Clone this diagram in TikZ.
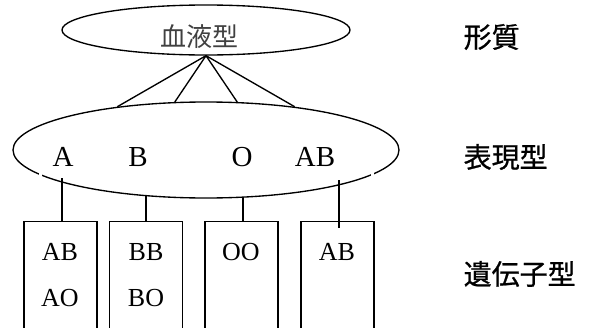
\documentclass[tikz,border=0pt]{standalone}
\usepackage{fontspec}
\setmainfont{Liberation Serif}
\newfontfamily\cjk{Noto Sans CJK JP}
\newfontfamily\cjkbold[FakeBold=0.8]{Noto Sans CJK JP}
\usetikzlibrary{shapes.geometric}
\begin{document}
\begin{tikzpicture}[x=1pt,y=-1pt,
  line width=1.35pt,
  oval/.style={draw,ellipse,inner sep=0pt},
  genebox/.style={draw,rectangle,minimum width=73pt,minimum height=120pt,anchor=north,inner sep=0pt},
  big/.style={font=\fontsize{29}{31}\selectfont,anchor=base,inner sep=0pt},
  small/.style={font=\fontsize{26}{28}\selectfont,anchor=base,inner sep=0pt},
  label/.style={font=\cjkbold\fontsize{28}{30}\selectfont,anchor=west,inner sep=0pt}]
\useasboundingbox (0,0) rectangle (592,327);
\clip (0,0) rectangle (592,327);
% top ellipse
\node[oval,minimum width=288pt,minimum height=50pt] (blood) at (206,30) {};
\node[font=\cjk\fontsize{26}{28}\selectfont,text=black!75,inner sep=0pt] (bloodtxt) at (199,37) {血液型};
% phenotype ellipse
\node[oval,minimum width=386pt,minimum height=96pt] (pheno) at (206,150) {};
\fill[white] (38.5,171) rectangle (41.5,178);
\fill[white] (371,169) rectangle (374,176);
\node[big] (tA) at (63,166.5) {A};
\node[big] (tB) at (138,166.5) {B};
\node[big] (tO) at (242,166.5) {O};
\node[big] (tAB) at (315,166.5) {AB};
% connectors top
\draw (blood.south) -- (pheno.154.2);
\draw (blood.south) -- (pheno.123.7);
\draw (blood.south) -- (pheno.57.1);
\draw (blood.south) -- (pheno.26.3);
% boxes
\node[genebox] (bA) at (60.5,221) {};
\node[genebox] (bB) at (146,221) {};
\node[genebox] (bO) at (241.5,221) {};
\node[genebox] (bAB) at (337.5,221) {};
\node[small] (gAB1) at (60,260) {AB};
\node[small] (gAO) at (60,306.7) {AO};
\node[small] (gBB) at (146,260) {BB};
\node[small] (gBO) at (146,306.7) {BO};
\node[small] (gOO) at (241,260) {OO};
\node[small] (gAB2) at (337,260) {AB};
% lower connectors
\coordinate (cA) at (62,178);
\coordinate (cB) at (146,195.6);
\coordinate (cO) at (243,197.1);
\coordinate (cAB) at (339,180);
\coordinate (cABend) at (339,228);
\draw (cA) -- (cA |- bA.north);
\draw (cB) -- (cB |- bB.north);
\draw (cO) -- (cO |- bO.north);
\draw (cAB) -- (cABend);
% labels
\node[label] (l1) at (463,37) {形質};
\node[label] (l2) at (463,157) {表現型};
\node[label] (l3) at (463,274) {遺伝子型};
\end{tikzpicture}
\end{document}
